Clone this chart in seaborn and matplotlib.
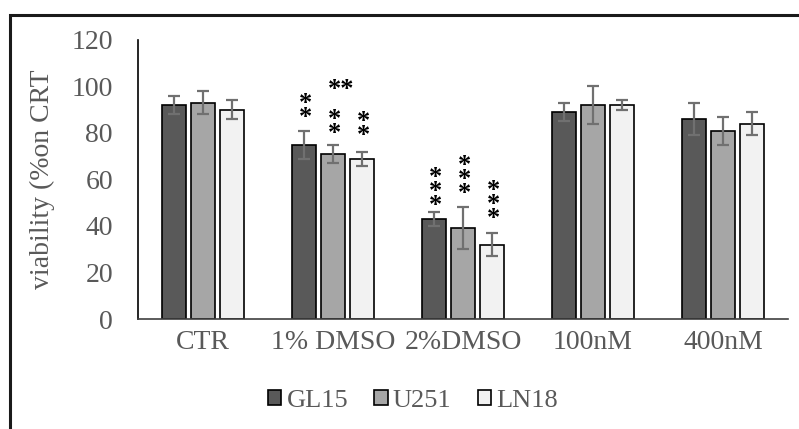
import matplotlib.pyplot as plt
import matplotlib.patches as mpatches
import numpy as np
import pandas as pd
import seaborn as sns

# data
groups = ["CTR", "1% DMSO", "2%DMSO", "100nM", "400nM"]
lines = ["GL15", "U251", "LN18"]
gl15 = [92, 75, 43, 89, 86]
u251 = [93, 71, 39, 92, 81]
ln18 = [90, 69, 32, 92, 84]
gl15_err = [4, 6, 3, 4, 7]
u251_err = [5, 4, 9, 8, 6]
ln18_err = [4, 3, 5, 2, 5]

# significance marks: (group, line, text, y centre)
stars = [
    ("1% DMSO", "GL15", "*\n*", 89.6),
    ("1% DMSO", "U251", "*\n*", 82.8),
    ("1% DMSO", "LN18", "*\n*", 81.9),
    ("2%DMSO", "GL15", "*\n*\n*", 54.7),
    ("2%DMSO", "U251", "*\n*\n*", 59.9),
    ("2%DMSO", "LN18", "*\n*\n*", 49.1),
]
extra_star = ("1% DMSO", "U251", "**", 98.8)

COLORS = {"GL15": "#595959", "U251": "#A6A6A6", "LN18": "#F2F2F2"}
TXT = "#595959"

df = pd.DataFrame({
    "group": groups * 3,
    "line": [l for l in lines for _ in groups],
    "value": gl15 + u251 + ln18,
    "err": gl15_err + u251_err + ln18_err,
})

sns.set_style("white")
plt.rcParams["font.family"] = ["Liberation Serif", "DejaVu Serif"]

fig = plt.figure(figsize=(7.99, 4.29), dpi=100)
ax = fig.add_axes([0.1727, 0.2564, 0.8135, 0.6504])

sns.barplot(data=df, x="group", y="value", hue="line", order=groups, hue_order=lines,
            palette=COLORS, width=0.67, gap=0.2, errorbar=None,
            edgecolor="black", linewidth=1.2, ax=ax)

# error bars at patch centres
centres = {}
bars = [p for p in ax.patches if p.get_height() > 0][:15]
for i, p in enumerate(bars):
    line = lines[i // len(groups)]
    grp = groups[i % len(groups)]
    cx = p.get_x() + p.get_width() / 2
    centres[(grp, line)] = cx
    row = df[(df.group == grp) & (df.line == line)].iloc[0]
    ax.errorbar(cx, row.value, yerr=row.err, color="#707070", capsize=4,
                elinewidth=1.6, capthick=1.6, zorder=5)

for grp, line, txt, yc in stars:
    ax.text(centres[(grp, line)] + 1.5 / 130, yc, txt, ha="center", va="center",
            fontsize=19, fontweight="bold", linespacing=0.5, color="black", zorder=6)
grp, line, txt, yc = extra_star
ax.text(centres[(grp, line)] + 8 / 130, yc, txt, ha="center", va="center",
        fontsize=19, fontweight="bold", color="black", zorder=6)

ax.set_ylim(0, 120)
ax.set_xlim(-0.5, 4.5)
ax.set_yticks(range(0, 121, 20))
ax.tick_params(axis="y", length=0, pad=18, labelsize=20, labelcolor=TXT)
ax.tick_params(axis="x", length=0, pad=8, labelsize=20, labelcolor=TXT)
ax.set_xlabel("")
ax.set_ylabel("viability (%on CRT", fontsize=20, color=TXT)
ax.yaxis.set_label_coords(-0.128, 0.5)
for s in ["top", "right"]:
    ax.spines[s].set_visible(False)
ax.spines["left"].set_color("black")
ax.spines["left"].set_linewidth(1.2)
ax.spines["bottom"].set_color("#404040")
ax.spines["bottom"].set_linewidth(1.2)

handles, labels = ax.get_legend_handles_labels()
ax.get_legend().remove()
fig.legend(handles, labels, loc="center", bbox_to_anchor=(413 / 799, 0.066), ncol=3,
           frameon=False, fontsize=19, labelcolor=TXT, handlelength=0.5,
           handleheight=0.5, handletextpad=0.2, columnspacing=1.0)

# outer frame (left and top edges visible)
fig.patches.append(mpatches.Rectangle((10 / 799, -0.2), 1.2, 0.2 + 1 - 15 / 429,
                                      transform=fig.transFigure, fill=False,
                                      edgecolor="#1a1a1a", linewidth=2.2))

fig.savefig("out.png", dpi=100)
